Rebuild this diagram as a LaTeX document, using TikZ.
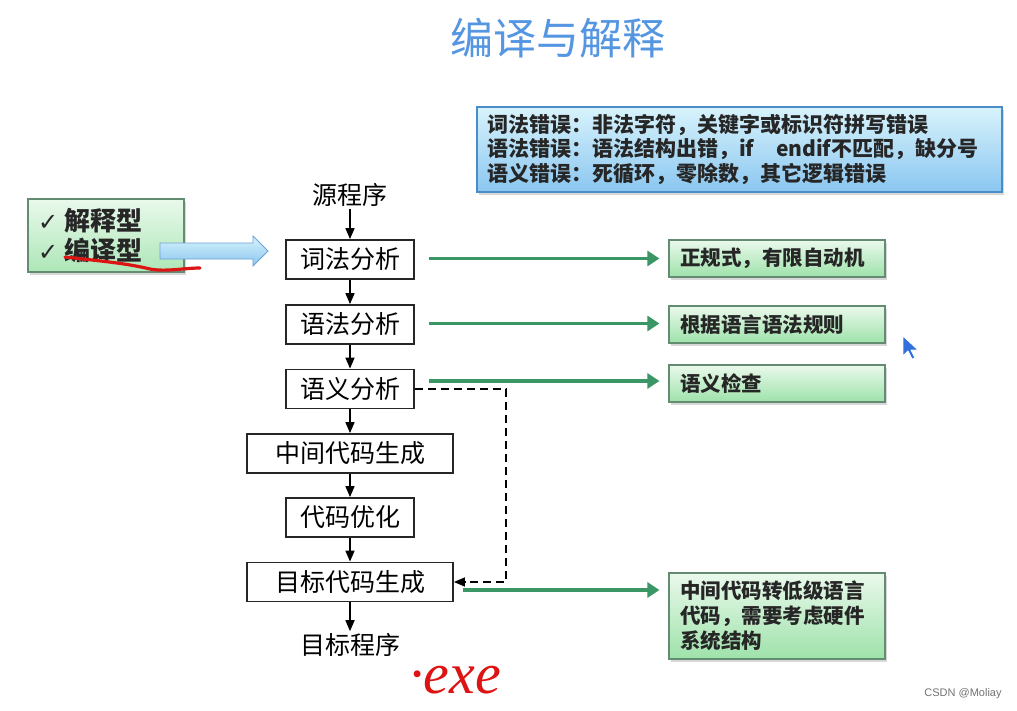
\documentclass[tikz,border=0pt]{standalone}
\usepackage{fontspec}
\setmainfont{Noto Sans CJK SC}
\newfontfamily\dejavu{DejaVu Sans}
\newfontfamily\libsans{Liberation Sans}
\newfontfamily\lserif{Liberation Serif}
\usetikzlibrary{arrows.meta,shadows,calc}
\definecolor{titleblue}{RGB}{84,150,226}
\definecolor{gtop}{RGB}{234,249,236}
\definecolor{gbot}{RGB}{158,226,170}
\definecolor{gborder}{RGB}{100,140,115}
\definecolor{garrow}{RGB}{58,150,100}
\definecolor{btop}{RGB}{216,243,252}
\definecolor{bbot}{RGB}{138,198,240}
\definecolor{bborder}{RGB}{72,140,200}
\definecolor{inkred}{RGB}{220,20,20}
\definecolor{cursorblue}{RGB}{50,110,220}
\tikzset{
  flowbox/.style={draw=black!85, line width=1.8pt, minimum width=128pt, minimum height=39pt, inner sep=0pt, font=\fontsize{25}{25}\selectfont},
  flowtext/.style={inner sep=2pt, font=\fontsize{25}{25}\selectfont},
  flowarrow/.style={line width=1.6pt, -{Triangle[length=11pt,width=9pt]}},
  greenbox/.style={draw=gborder, line width=1.2pt, top color=gtop, bottom color=gbot,
    drop shadow={opacity=0.3,shadow xshift=2pt,shadow yshift=-3pt},
    font=\fontsize{20.5}{25}\selectfont\bfseries, text=black!85, align=left,
    text width=194pt, inner xsep=11pt, inner ysep=0pt, minimum height=37pt},
  greenarrow/.style={draw=garrow, line width=3.5pt, -{Triangle[length=12pt,width=15pt]}, shorten >=9pt},
}
\begin{document}
\begin{tikzpicture}[x=1pt,y=-1pt]
\useasboundingbox[fill=white] (0,0) rectangle (1017,710);

% title
\node[text=titleblue, font=\fontsize{43}{43}\selectfont] (title) at (558,38) {编译与解释};

% top-right error box
\node[draw=bborder, line width=1.2pt, top color=btop, bottom color=bbot,
      drop shadow={opacity=0.3,shadow xshift=2pt,shadow yshift=-3pt},
      font=\fontsize{21}{24.5}\selectfont\bfseries, text=black!85, align=left,
      text width=505pt, inner xsep=10pt, minimum height=85pt] (err) at (739.5,149.5)
 {词法错误：非法字符，关键字或标识符拼写错误\\
  语法错误：语法结构出错，if\hspace{22pt}endif不匹配，缺分号\\
  语义错误：死循环，零除数，其它逻辑错误};

% left box
\node[draw=gborder, line width=1.2pt, top color=gtop, bottom color=gbot!85,
      drop shadow={opacity=0.3,shadow xshift=2pt,shadow yshift=-3pt},
      font=\fontsize{26}{30}\selectfont\bfseries, text=black!85, align=left,
      text width=136pt, inner xsep=10pt, minimum height=73pt] (kind) at (106,235.5)
 {{\dejavu\mdseries\fontsize{24}{24}\selectfont ✓}\hspace{6pt}解释型\\
  {\dejavu\mdseries\fontsize{24}{24}\selectfont ✓}\hspace{6pt}编译型};

% flow
\node[flowtext] (src) at (350,195) {源程序};
\node[flowbox] (s1) at (350,259.5) {词法分析};
\node[flowbox] (s2) at (350,324.5) {语法分析};
\node[flowbox] (s3) at (350,389) {语义分析};
\node[flowbox, minimum width=206pt] (s4) at (350,453.5) {中间代码生成};
\node[flowbox] (s5) at (350,517.5) {代码优化};
\node[flowbox, minimum width=206pt] (s6) at (350,582) {目标代码生成};
\node[flowtext] (dst) at (350,645) {目标程序};

\draw[flowarrow] (src) -- (s1);
\draw[flowarrow] (s1) -- (s2);
\draw[flowarrow] (s2) -- (s3);
\draw[flowarrow] (s3) -- (s4);
\draw[flowarrow] (s4) -- (s5);
\draw[flowarrow] (s5) -- (s6);
\draw[flowarrow] (s6) -- (dst);

\draw[line width=1.4pt, dash pattern=on 8pt off 5pt, -{Triangle[length=11pt,width=9pt]}]
  (s3.east) -- ++(91,0) |- (s6.east);

% blue block arrow (over left box)
\draw[draw=bborder!80, line width=0.8pt, top color=btop, bottom color=bbot]
  (160,243) -- (253,243) -- (253,236) -- (268,251) -- (253,266) -- (253,259) -- (160,259) -- cycle;

% red underline
\draw[inkred, line width=3.2pt, line cap=round]
  (65,257) .. controls (100,261) and (125,263) .. (150,269) .. controls (165,272) and (185,268) .. (200,268);

% right green boxes
\node[greenbox] (g1) at (777,258.5) {正规式，有限自动机};
\node[greenbox] (g2) at (777,324.5) {根据语言语法规则};
\node[greenbox] (g3) at (777,383.5) {语义检查};
\node[greenbox, minimum height=86pt] (g4) at (777,616) {中间代码转低级语言\\代码，需要考虑硬件\\系统结构};

\coordinate (a1) at ($(s1.east)+(14,-1)$);
\coordinate (a2) at ($(s2.east)+(14,-1)$);
\coordinate (a3) at ($(s3.east)+(14,-8)$);
\coordinate (a4) at ($(s6.east)+(9,8)$);
\draw[greenarrow] (a1) -- (a1 -| g1.west);
\draw[greenarrow] (a2) -- (a2 -| g2.west);
\draw[greenarrow] (a3) -- (a3 -| g3.west);
\draw[greenarrow] (a4) -- (a4 -| g4.west);

% mouse cursor
\draw[fill=cursorblue, draw=white, line width=0.8pt, line join=round]
  (903,336) -- (903,356) -- (908,351) -- (912,359) -- (915,358) -- (911,350) -- (918,350) -- cycle;

% handwriting
\node[text=inkred, font=\lserif\itshape\fontsize{58}{58}\selectfont] (exe) at (455,680) {·exe};

% watermark
\node[text=black!55, font=\libsans\fontsize{11}{11}\selectfont] (wm) at (963,694) {CSDN @Moliay};
\end{tikzpicture}
\end{document}
